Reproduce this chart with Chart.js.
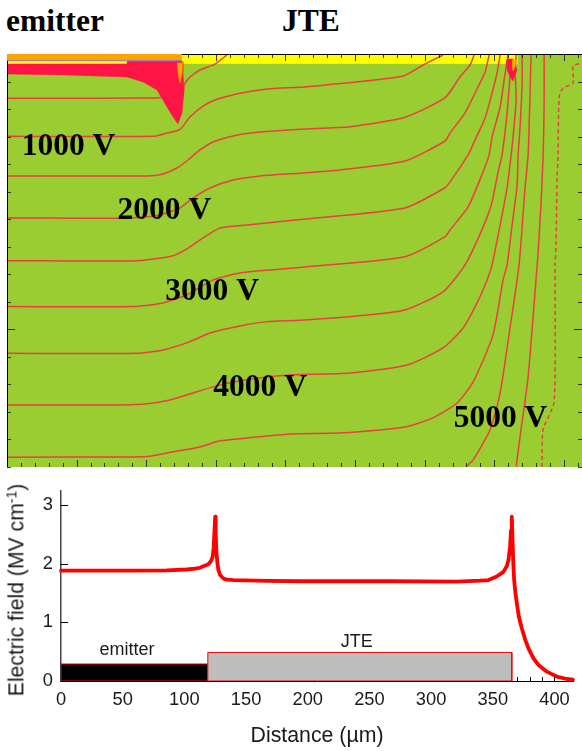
<!DOCTYPE html>
<html>
<head>
<meta charset="utf-8">
<style>
  body { margin: 0; background: #fff; width: 582px; height: 751px; overflow: hidden; position: relative; }
  canvas { position: absolute; left: 0; }
  .head { position: absolute; font: bold 31.5px "Liberation Serif", serif; color: #000; line-height: 31px; }
  .ytitle { position: absolute; left: 16px; top: 590px; transform: translate(-50%, -50%) rotate(-90deg); white-space: nowrap;
            font: 21.2px "Liberation Sans", sans-serif; color: #1a1a1a; line-height: 1; z-index: 2; }
  .ytitle sup { font-size: 14px; line-height: 0; vertical-align: 7px; }
</style>
<script src="https://cdn.jsdelivr.net/npm/chart.js@4"></script>
</head>
<body>
<div class="head" style="left:6px;top:5px">emitter</div>
<div class="head" style="left:282px;top:5px">JTE</div>
<div class="ytitle">Electric field (MV cm<sup>-1</sup>)</div>
<canvas id="potentialChart"></canvas>
<canvas id="fieldChart"></canvas>
<script>
// ── potential map: x = lateral distance (µm), y = depth (µm) ──
const c1x = [0, 106.3, 113.5, 125.7, 127.2, 131.5, 138.6, 149.4, 158];
const c1y = [32.2, 32, 31.2, 31.2, 22.5, 16.7, 11.6, 7.3, 0.7];
const c2x = [0, 104.9, 114.9, 124.3, 131.5, 140.8, 150.9, 167.4, 186.8, 210.5, 221.3, 248.6, 284.5, 298.9, 313.2];
const c2y = [59.8, 59.8, 57.4, 54.7, 45.6, 37.8, 32.9, 28.5, 25.4, 24.2, 23.2, 20.6, 16, 8, 0.7];
const c3x = [0, 100.6, 112.1, 122.1, 130, 138.6, 148, 162.4, 176.8, 210.5, 246.4, 285.9, 314.7, 325.4, 332.6, 335.5];
const c3y = [88.6, 88.6, 87.1, 82.8, 77, 69.7, 63.9, 59.5, 57.2, 54.7, 52.8, 46, 31.7, 16.5, 8, 0.7];
const c4x = [0, 88.4, 109.9, 124.3, 133.6, 145.8, 162.4, 181.8, 210.5, 239.2, 285.9, 314.7, 318.2, 329, 336.2, 343.4, 346.3];
const c4y = [119.1, 119.1, 116.9, 111.8, 104.6, 97.3, 91.5, 88.6, 86.6, 84.2, 77.7, 63.2, 57.4, 42.8, 28.3, 13.1, 0.7];
const c5x = [0, 93.4, 119.3, 129.3, 140.8, 153, 172.4, 210.5, 285.9, 314.7, 318.2, 331.2, 336.2, 343.4, 348.4, 352, 354.2];
const c5y = [150.1, 150.1, 146.5, 141.6, 133.6, 126.4, 124.2, 120.2, 111.8, 97.1, 92.9, 73.3, 62.4, 46.5, 28.3, 13.8, 0.7];
const c6x = [0, 90.5, 112.1, 129.3, 148, 167.4, 210.5, 285.9, 314.7, 318.2, 331.2, 341.9, 346.3, 348.4, 354.2, 357.8, 359.9];
const c6y = [183.5, 183.5, 180.8, 175, 164.1, 159, 155, 147.2, 132.7, 127.8, 111.1, 85.7, 73.3, 60.3, 38.5, 13.8, 0.7];
const c7x = [0, 93.4, 112.1, 131.5, 145.8, 167.4, 186.8, 210.5, 251.4, 285.9, 313.2, 329, 342, 348.4, 352.7, 355.6, 359.2, 361.4];
const c7y = [217.4, 217.4, 215, 208.9, 202.6, 197.5, 194.4, 193.4, 190.3, 185.9, 172.8, 153.2, 125.6, 107.5, 85.7, 73.3, 42.8, 15.3];
const c8x = [0, 74, 99.1, 117.1, 133.6, 148, 162.4, 186.8, 203.3, 246.4, 287.4, 313.2, 327.6, 337.6, 344.8, 348.4, 354.2, 359.2, 362.1, 363.5, 365.7, 365, 365.7];
const c8y = [254.9, 254.9, 254.2, 251.3, 246.2, 241.8, 238.2, 234.6, 233.1, 231.7, 225.9, 213.5, 199, 180.8, 164.1, 153.2, 124.2, 97.3, 73.3, 60.3, 33.4, 11.6, 0.7];
const c9x = [0, 77.6, 100.6, 119.3, 138.6, 153, 172.4, 203.3, 241.4, 285.9, 306, 323.3, 334.8, 349.1, 356.3, 359.2, 362.8, 366.4, 367.1, 368.5, 370, 370];
const c9y = [292.9, 292.7, 292.4, 289, 285.4, 281, 278.9, 276, 275.2, 270.9, 264.3, 253.5, 238.2, 204, 164.1, 153.2, 124.2, 95.1, 73.3, 53, 21.1, 0.7];
const c10x = [329.7, 334.8, 347, 354.2, 361.4, 367.8, 372.1, 374.3, 375.7, 376.4];
const c10y = [299.9, 294.8, 273, 246.2, 198.3, 153.2, 97.3, 73.3, 28.3, 0.7];
const c11x = [365.7, 368.5, 374.3, 380.8, 381.5, 383.6, 385.1, 385.8, 385.8];
const c11y = [299.9, 278.1, 234.6, 153.2, 143.8, 107.5, 73.3, 37, 0.7];
const c12x = [384.3, 385, 393, 393.7, 394.4, 395.1, 395.8, 396.6, 399.4, 406.6, 406.6, 413];
const c12y = [299.9, 273, 252.7, 153.2, 136.5, 90, 73.3, 31.2, 24.7, 21.1, 8.7, 6.5];

// regions at the surface
const emitterStripX = [0, 125.5, 125.5, 0];
const emitterStripY = [0, 0, 4.4, 4.4];
const oxideLineX = [0, 125.5, 125.5, 0];
const oxideLineY = [4.4, 4.4, 5.4, 5.4];
const emitterYellowX = [0, 86.2, 86.2, 0];
const emitterYellowY = [5.4, 5.4, 7.3, 7.3];
const jteStripX = [125.5, 366.4, 366.4, 125.5];
const jteStripY = [0, 0, 7, 7];
const emitterSpikeX = [0, 86.2, 86.2, 125.7, 126.4, 127.2, 125.7, 122.8, 119.3, 114.9, 107.8, 97.7, 86.2, 41.7, 0];
const emitterSpikeY = [7.3, 7.3, 5.4, 5.4, 13.8, 26.1, 42.8, 50.8, 45.8, 38.5, 26.1, 20.3, 16.7, 15.2, 14.5];
const emitterCoreX = [122.1, 125.7, 125.7, 124.3, 122.8];
const emitterCoreY = [6.5, 6.5, 13.8, 21.1, 13.8];
const jteSpikeX = [358.5, 359.9, 363.5, 366.4, 364.9, 363.5, 361.4, 359.2];
const jteSpikeY = [5.8, 3.6, 3.6, 11.6, 15.3, 19.6, 16.7, 11.6];
const jteCoreX = [362.8, 365.7, 364.9, 363.5, 362.8];
const jteCoreY = [4.4, 4.4, 9.4, 12.3, 9.4];

const voltageLabels = ['1000 V', '2000 V', '3000 V', '4000 V', '5000 V'];
const voltageLabelX = [44.2, 113, 147.3, 181.8, 354.5];
const voltageLabelY = [67.8, 113.8, 172.5, 242.2, 265.2];

// ── field along the surface ──
const fieldX = [0, 58.6, 85.7, 101.9, 108.6, 112.7, 115.4, 119.5, 121.6, 123, 123.8, 124.3, 125, 125.4, 125.9, 126.8, 127.6, 128.9, 130.5, 132.2, 134.7, 139.7, 166.8, 193.8, 266.8, 320.8, 339.7, 346.5, 353.2, 358.6, 361.4, 362.7, 364, 364.8, 365.4, 365.9, 366.5, 367.3, 368.4, 369.5, 371.1, 373.5, 376.2, 378.9, 383, 387, 393.8, 401.9, 410, 414.9];
const fieldY = [1.88, 1.88, 1.885, 1.9, 1.915, 1.93, 1.955, 1.99, 2.045, 2.12, 2.29, 2.52, 2.8, 2.52, 2.23, 2, 1.89, 1.81, 1.77, 1.74, 1.727, 1.72, 1.705, 1.7, 1.7, 1.695, 1.71, 1.72, 1.78, 1.86, 1.96, 2.06, 2.29, 2.57, 2.8, 2.46, 2.06, 1.72, 1.49, 1.32, 1.1, 0.9, 0.71, 0.557, 0.386, 0.273, 0.159, 0.074, 0.034, 0.023];
const emitterBarX = [0, 0, 119, 119, 0];
const emitterBarY = [0, 0.29, 0.29, 0, 0];
const jteBarX = [119, 119, 365.4, 365.4, 119];
const jteBarY = [0, 0.487, 0.487, 0, 0];
const regionLabels = ['emitter', 'JTE'];
const regionLabelX = [53.5, 239.8];
const regionLabelY = [0.53, 0.67];

const GREEN = '#9acd32';
const CONTOUR = '#ea3f40';
const RED = '#ff1446';

const toPoints = (xs, ys) => xs.map((x, i) => ({ x, y: ys[i] }));

function contour(xs, ys, dash) {
  return { data: toPoints(xs, ys), showLine: true, pointRadius: 0, borderColor: CONTOUR, borderWidth: 1.5, borderDash: dash || [], fill: false, tension: 0.2 };
}
function region(xs, ys, colour) {
  return { data: toPoints(xs, ys), showLine: true, pointRadius: 0, borderColor: colour, borderWidth: 0.5, backgroundColor: colour, fill: 'shape' };
}
// later entries go on top
const layered = list => list.map((d, i) => Object.assign(d, { order: -i }));

// Text in data coordinates
function textPlugin(labels, xs, ys, font, colour) {
  return {
    id: 'dataText',
    afterDatasetsDraw(chart) {
      const { ctx, scales } = chart;
      ctx.save();
      ctx.font = font;
      ctx.fillStyle = colour;
      ctx.textAlign = 'center';
      ctx.textBaseline = 'middle';
      labels.forEach((t, i) => ctx.fillText(t, scales.x.getPixelForValue(xs[i]), scales.y.getPixelForValue(ys[i])));
      ctx.restore();
    }
  };
}

// Inward tick marks on the map, on all sides except where the strip has none
const mapFrame = {
  id: 'mapFrame',
  beforeDatasetsDraw(chart) {
    const { ctx, chartArea: a } = chart;
    ctx.save();
    ctx.fillStyle = GREEN;
    ctx.fillRect(a.left, a.top, a.width, a.height);
    ctx.restore();
  },
  afterDatasetsDraw(chart) {
    const { ctx, chartArea: a, scales } = chart;
    ctx.save();
    ctx.strokeStyle = '#000';
    ctx.lineWidth = 1;
    ctx.globalAlpha = 0.75;
    ctx.beginPath();
    scales.x.ticks.forEach(t => {
      const px = Math.round(scales.x.getPixelForValue(t.value)) + 0.5;
      const len = t.value % 50 === 0 ? 7 : 4;
      if (t.value > 125) { ctx.moveTo(px, a.top); ctx.lineTo(px, a.top + len); }
      ctx.moveTo(px, a.bottom); ctx.lineTo(px, a.bottom - len);
    });
    scales.y.ticks.forEach(t => {
      const py = Math.round(scales.y.getPixelForValue(t.value)) + 0.5;
      const len = t.value === 200 ? 8 : 4;
      if (t.value > 10 || t.value === 300) { ctx.moveTo(a.left, py); ctx.lineTo(a.left + len, py); }
      ctx.moveTo(a.right, py); ctx.lineTo(a.right - len, py);
    });
    ctx.stroke();
    ctx.globalAlpha = 1;
    ctx.beginPath();
    const edge = scales.x.getPixelForValue(125.5);
    ctx.moveTo(edge, a.top + 0.5); ctx.lineTo(a.right, a.top + 0.5);
    ctx.moveTo(a.left + 0.5, scales.y.getPixelForValue(5)); ctx.lineTo(a.left + 0.5, a.bottom);
    ctx.stroke();
    ctx.restore();
  }
};

const mapCanvas = document.getElementById('potentialChart');
mapCanvas.style.top = '0px';
mapCanvas.width = 582;
mapCanvas.height = 480;
new Chart(mapCanvas, {
  type: 'scatter',
  data: {
    datasets: layered([
      region(emitterStripX, emitterStripY, '#ffa500'),
      region(oxideLineX, oxideLineY, '#9a80b8'),
      region(emitterYellowX, emitterYellowY, '#ffff00'),
      region(jteStripX, jteStripY, '#ffff00'),
      contour(c1x, c1y), contour(c2x, c2y), contour(c3x, c3y), contour(c4x, c4y),
      contour(c5x, c5y), contour(c6x, c6y), contour(c7x, c7y), contour(c8x, c8y),
      contour(c9x, c9y), contour(c10x, c10y), contour(c11x, c11y), contour(c12x, c12y, [4, 3]),
      region(emitterSpikeX, emitterSpikeY, RED),
      region(emitterCoreX, emitterCoreY, '#ffa500'),
      region(jteSpikeX, jteSpikeY, RED),
      region(jteCoreX, jteCoreY, '#ffa500')
    ])
  },
  options: {
    responsive: false,
    animation: false,
    layout: { padding: { left: 7, right: 0, top: 54, bottom: 13 } },
    plugins: { legend: { display: false }, tooltip: { enabled: false } },
    scales: {
      x: {
        type: 'linear', min: 0, max: 413,
        ticks: { display: false, stepSize: 10, includeBounds: false, autoSkip: false },
        grid: { display: false, drawTicks: false }, border: { display: false }
      },
      y: {
        type: 'linear', min: 0, max: 300, reverse: true,
        ticks: { display: false, stepSize: 20, includeBounds: false, autoSkip: false },
        grid: { display: false, drawTicks: false }, border: { display: false }
      }
    }
  },
  plugins: [mapFrame, textPlugin(voltageLabels, voltageLabelX, voltageLabelY, 'bold 31.5px "Liberation Serif"', '#000')]
});

// Inward ticks for the field plot, covered by the bars
const fieldTicks = {
  id: 'fieldTicks',
  beforeDatasetsDraw(chart) {
    const { ctx, scales } = chart;
    ctx.save();
    ctx.strokeStyle = '#000';
    ctx.lineWidth = 1;
    ctx.beginPath();
    for (let v = 0; v <= 410; v += 10) {
      const px = Math.round(scales.x.getPixelForValue(v)) + 0.5;
      ctx.moveTo(px, scales.y.bottom);
      ctx.lineTo(px, scales.y.bottom - (v % 50 === 0 ? 7 : 4));
    }
    scales.y.ticks.forEach(t => {
      const py = Math.round(scales.y.getPixelForValue(t.value)) + 0.5;
      ctx.moveTo(scales.x.left, py);
      ctx.lineTo(scales.x.left + 7, py);
    });
    ctx.stroke();
    ctx.restore();
  }
};

const fieldCanvas = document.getElementById('fieldChart');
fieldCanvas.style.top = '480px';
fieldCanvas.width = 582;
fieldCanvas.height = 271;
const TICK_FONT = { family: '"Liberation Sans"', size: 18.3 };
const TITLE_FONT = { family: '"Liberation Sans"', size: 21.3 };
new Chart(fieldCanvas, {
  type: 'scatter',
  data: {
    datasets: layered([
      { data: toPoints(emitterBarX, emitterBarY), showLine: true, pointRadius: 0, fill: 'shape', backgroundColor: '#000', borderColor: '#f00', borderWidth: 1 },
      { data: toPoints(jteBarX, jteBarY), showLine: true, pointRadius: 0, fill: 'shape', backgroundColor: '#bebebe', borderColor: '#f00', borderWidth: 1 },
      { data: toPoints(fieldX, fieldY), showLine: true, pointRadius: 0, borderColor: '#f00', borderWidth: 3.8, fill: false, borderCapStyle: 'round', borderJoinStyle: 'round', clip: false }
    ])
  },
  options: {
    responsive: false,
    animation: false,
    layout: { padding: { left: 0, right: 9, top: 11, bottom: 0 } },
    plugins: { legend: { display: false }, tooltip: { enabled: false } },
    scales: {
      x: {
        type: 'linear', min: 0, max: 415,
        afterFit(scale) { scale.height = 70; scale.paddingLeft = 0; scale.paddingRight = 0; },
        title: { display: true, text: 'Distance (µm)', color: '#1a1a1a', font: TITLE_FONT, padding: { top: 0, bottom: 2 } },
        ticks: { stepSize: 50, includeBounds: false, autoSkip: false, maxRotation: 0, color: '#1a1a1a', font: TICK_FONT, padding: 8 },
        grid: { drawOnChartArea: false, drawTicks: false },
        border: { display: true, color: '#000', width: 1 }
      },
      y: {
        type: 'linear', min: 0, max: 3.238,
        afterFit(scale) { scale.width = 61; scale.paddingTop = 0; scale.paddingBottom = 0; },
        ticks: { stepSize: 1, includeBounds: false, color: '#1a1a1a', font: TICK_FONT, padding: 8 },
        grid: { drawOnChartArea: false, drawTicks: false },
        border: { display: true, color: '#444', width: 1.5 }
      }
    }
  },
  plugins: [fieldTicks, textPlugin(regionLabels, regionLabelX, regionLabelY, '18px "Liberation Sans"', '#1a1a1a')]
});
</script>
</body>
</html>
